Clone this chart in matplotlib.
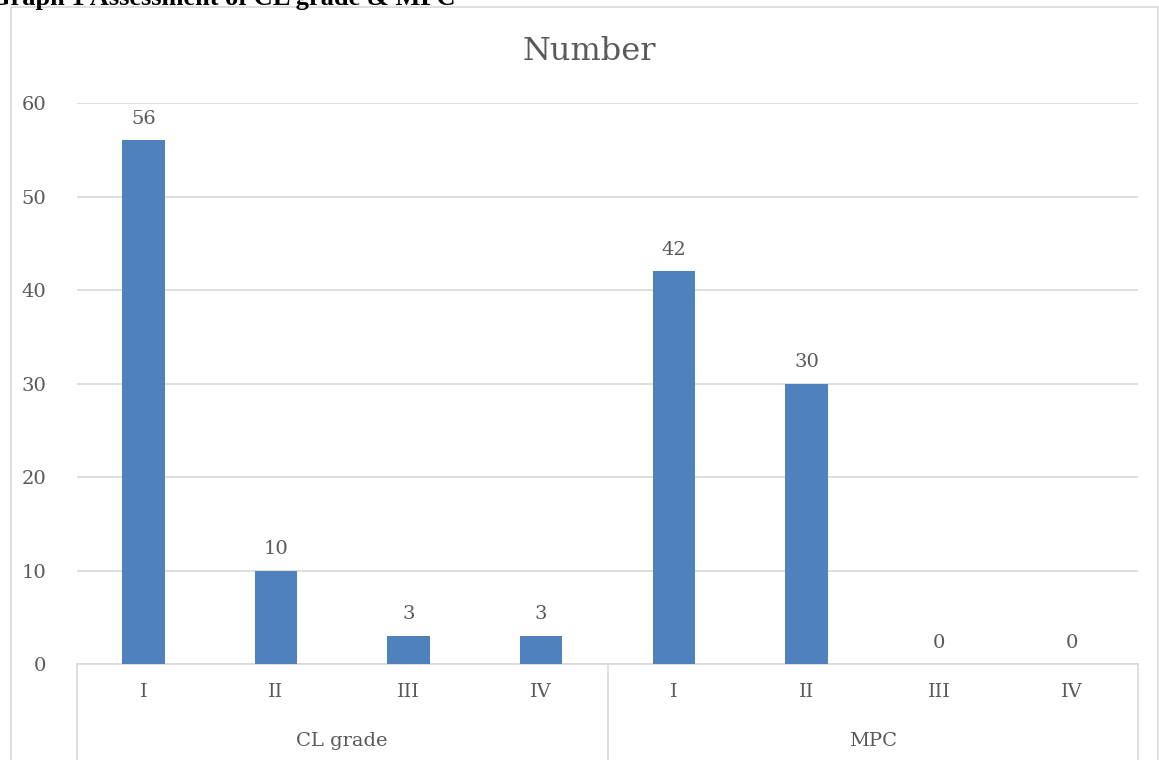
import matplotlib
matplotlib.use("Agg")
import matplotlib.pyplot as plt
from matplotlib.patches import Rectangle
from matplotlib.lines import Line2D

groups = ["CL grade", "MPC"]
grades = ["I", "II", "III", "IV"]
cl_values = [56, 10, 3, 3]
mpc_values = [42, 30, 0, 0]
title = "Number"
caption = "Graph 1 Assessment of CL grade & MPC"

values = cl_values + mpc_values
labels = grades + grades

W, H = 1159, 760
fig = plt.figure(figsize=(W / 100, H / 100), dpi=100)
plt.rcParams['font.family'] = ['DejaVu Serif']

gray = "#595959"
grid = "#d9d9d9"
bar_color = "#4f81bd"
fs = 14

# outer chart frame
fig.patches.append(Rectangle((11 / W, -0.1), (1158 - 11) / W, 1.1 - 7 / H,
                             transform=fig.transFigure, fill=False,
                             edgecolor="#d9d9d9", linewidth=1.2))

# caption (cropped at the top edge as in the reference)
fig.text(455 / W, 1 - 5 / H, caption, ha="right", va="baseline",
         fontsize=19, fontweight="bold", color="black",
         family=["Liberation Serif"])

left, right, bottom, top = 77, 1138, 664, 103
ax = fig.add_axes([left / W, 1 - bottom / H, (right - left) / W, (bottom - top) / H])
n = len(values)
x = list(range(n))
ax.bar(x, values, width=0.32, color=bar_color, zorder=3)
ax.set_xlim(-0.5, n - 0.5)
ax.set_ylim(0, 60)
ax.set_yticks(range(0, 61, 10))
ax.yaxis.grid(True, color=grid, linewidth=1.2, zorder=0)
ax.tick_params(axis="y", length=0, pad=22, labelsize=fs, labelcolor=gray)
ax.tick_params(axis="x", length=0, pad=14, labelsize=fs, labelcolor=gray)
ax.set_xticks(x)
ax.set_xticklabels(labels)
for s in ["top", "right", "left"]:
    ax.spines[s].set_visible(False)
ax.spines["bottom"].set_color(grid)
ax.spines["bottom"].set_linewidth(1.2)

for xi, v in zip(x, values):
    ax.annotate(str(v), (xi, v), xytext=(0, 9), textcoords="offset points",
                ha="center", va="bottom", fontsize=fs, color=gray)

# group separators and group labels
trans = ax.get_xaxis_transform()
ax_h_px = bottom - top
sep_len = (760 - bottom + 5) / ax_h_px
for xs in [-0.5, 3.5, 7.5]:
    ax.add_line(Line2D([xs, xs], [0, -sep_len], transform=trans, color=grid,
                       linewidth=1.2, clip_on=False))
for gi, g in enumerate(groups):
    ax.text(gi * 4 + 1.5, -(741 - bottom) / ax_h_px, g, transform=trans,
            ha="center", va="center", fontsize=fs, color=gray)

fig.text(589 / W, 1 - 51 / H, title, ha="center", va="center",
         fontsize=23, color=gray)

fig.savefig("out.png", dpi=100)
